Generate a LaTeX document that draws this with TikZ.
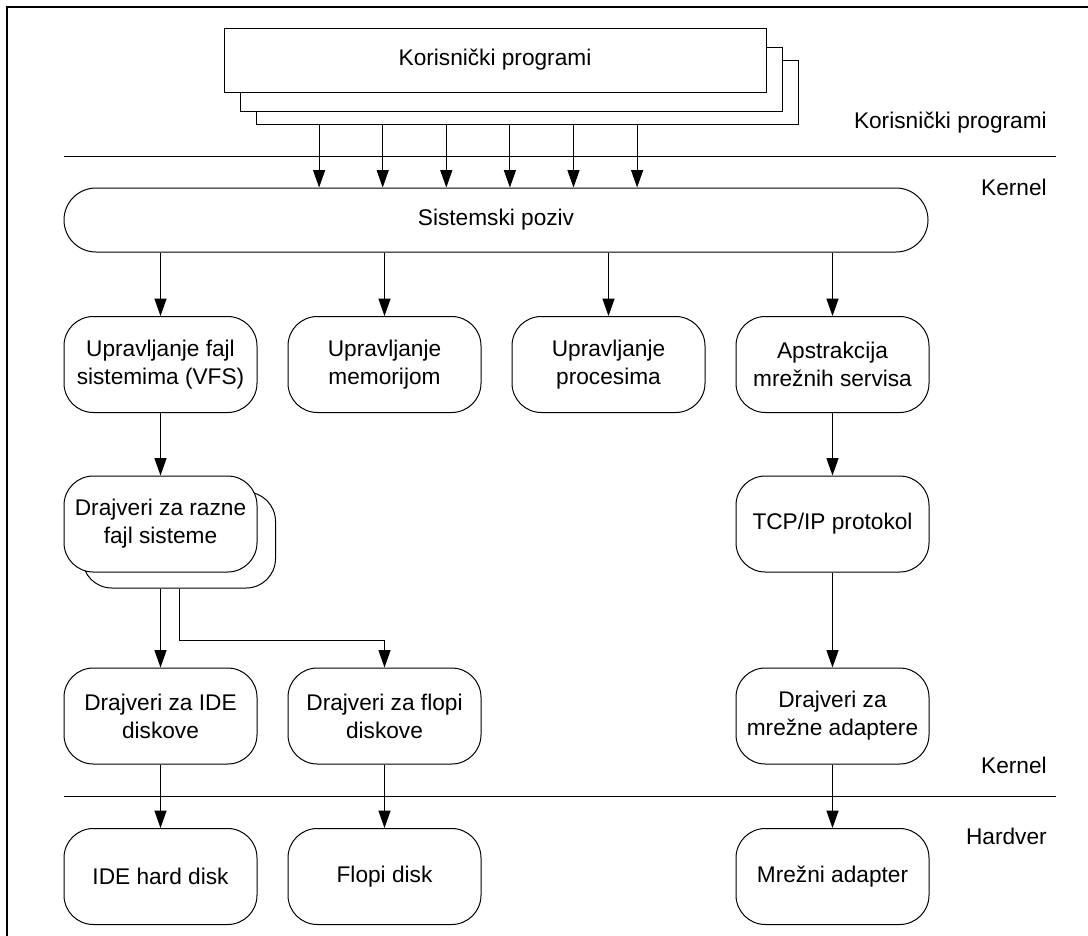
\documentclass[tikz,border=0pt]{standalone}
\usepackage{fontspec}
\setmainfont{Liberation Sans}
\usetikzlibrary{arrows.meta}
\begin{document}
\begin{tikzpicture}[x=0.75pt,y=-0.75pt,
  every node/.style={font=\fontsize{17}{21}\selectfont, inner sep=0pt, align=center},
  line/.style={line width=0.75pt, draw=black},
  arr/.style={line width=0.75pt, -{Triangle[length=13pt,width=9pt]}},
  block/.style={draw, line width=0.75pt, fill=white, rounded corners=22pt,
    minimum width=193*0.75pt, minimum height=96*0.75pt},
  progbox/.style={draw, line width=0.75pt, fill=white,
    minimum width=542*0.75pt, minimum height=64*0.75pt},
  syscall/.style={draw, line width=0.75pt, fill=white, rounded corners=24pt,
    minimum width=864*0.75pt, minimum height=64*0.75pt},
  layer/.style={anchor=east}
]
\useasboundingbox (0,0) rectangle (1088,935);

% outer frame (only top and left edges fall inside the page)
\draw[line width=1.5pt] (7,936) -- (7,7) -- (1089,7);

% user programs: three stacked sheets
\node[progbox] (prog3) at (527,92) {};
\node[progbox] (prog2) at (511,79) {};
\node[progbox] (prog1) at (495,60) {Korisnički programi};

% layer separators and layer names
\coordinate (sepAl) at (64,156);
\coordinate (sepAr) at (1056,156);
\coordinate (sepBl) at (64,796);
\coordinate (sepBr) at (1056,796);
\draw[line] (sepAl) -- (sepAr);
\draw[line] (sepBl) -- (sepBr);
\node[layer] (lblUser) at (1047,123) {Korisnički programi};
\node[layer] (lblKernA) at (1047,187) {Kernel};
\node[layer] (lblKernB) at (1047,765) {Kernel};
\node[layer] (lblHw) at (1047,836) {Hardver};

% system call interface
\node[syscall] (sys) at (496,220) {Sistemski poziv};

% kernel subsystems
\node[block] (vfs) at (160.5,364.5) {Upravljanje fajl\\sistemima (VFS)};
\node[block] (mem) at (384.5,364.5) {Upravljanje\\memorijom};
\node[block] (proc) at (608.5,364.5) {Upravljanje\\procesima};
\node[block] (net) at (832.5,364.5) {Apstrakcija\\mrežnih servisa};

% file system drivers (stacked) and network protocol
\node[block] (fsdrvB) at (179,540) {};
\node[block] (fsdrv) at (160.5,524) {Drajveri za razne\\fajl sisteme};
\node[block] (tcp) at (832.5,524) {TCP/IP protokol};

% device drivers
\node[block] (ide) at (160.5,716) {Drajveri za IDE\\diskove};
\node[block] (flop) at (384.5,716) {Drajveri za flopi\\diskove};
\node[block] (nic) at (832.5,716) {Drajveri za\\mrežne adaptere};

% hardware
\node[block] (hdd) at (160.5,876.5) {IDE hard disk};
\node[block] (fdd) at (384.5,876.5) {Flopi disk};
\node[block] (adp) at (832.5,876.5) {Mrežni adapter};

% calls from user programs into the kernel
\foreach \i in {1,...,6}
  \draw[arr] ([xshift=\i*63.6*0.75pt]prog3.south west) -- ([xshift=\i*63.6*0.75pt]prog3.south west |- sys.north);

% system call to subsystems
\draw[arr] (sys.south -| vfs.north) -- (vfs.north);
\draw[arr] (sys.south -| mem.north) -- (mem.north);
\draw[arr] (sys.south -| proc.north) -- (proc.north);
\draw[arr] (sys.south -| net.north) -- (net.north);

% downward chains
\draw[arr] (vfs.south) -- (fsdrv.north);
\draw[arr] (net.south) -- (tcp.north);
\draw[arr] (tcp.south) -- (nic.north);
\draw[arr] (fsdrvB.south -| ide.north) -- (ide.north);
\coordinate (split) at (fsdrvB.south);
\draw[arr] (split) -- (split |- 0,640) -| (flop.north);
\draw[arr] (ide.south) -- (hdd.north);
\draw[arr] (flop.south) -- (fdd.north);
\draw[arr] (nic.south) -- (adp.north);
\end{tikzpicture}
\end{document}
